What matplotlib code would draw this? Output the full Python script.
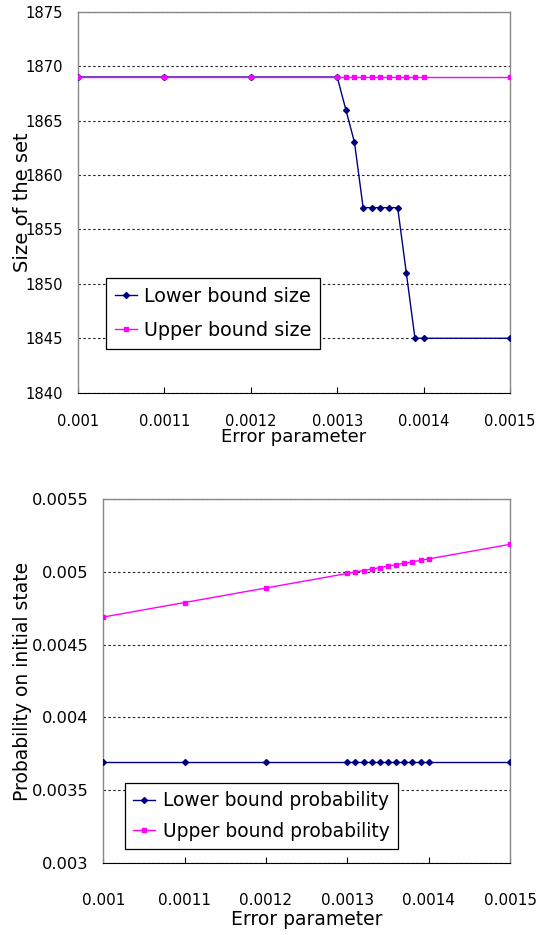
import matplotlib
matplotlib.use("Agg")
import matplotlib.pyplot as plt

plt.rcParams['font.family'] = ['DejaVu Sans']

# Error parameter values shared by both panels
error_param = [0.001, 0.0011, 0.0012, 0.0013, 0.00131, 0.00132, 0.00133, 0.00134,
               0.00135, 0.00136, 0.00137, 0.00138, 0.00139, 0.0014, 0.0015]

# Panel 1: size of the set
lower_size = [1869, 1869, 1869, 1869, 1866, 1863, 1857, 1857,
              1857, 1857, 1857, 1851, 1845, 1845, 1845]
upper_size = [1869, 1869, 1869, 1869, 1869, 1869, 1869, 1869,
              1869, 1869, 1869, 1869, 1869, 1869, 1869]

# Panel 2: probability on initial state
lower_prob = [0.00369, 0.00369, 0.00369, 0.00369, 0.00369, 0.00369, 0.00369, 0.00369,
              0.00369, 0.00369, 0.00369, 0.00369, 0.00369, 0.00369, 0.00369]
upper_prob = [0.00469, 0.00479, 0.00489, 0.00499, 0.00500, 0.00501, 0.00502, 0.00503,
              0.00504, 0.00505, 0.00506, 0.00507, 0.00508, 0.00509, 0.00519]

x_ticks = [0.001, 0.0011, 0.0012, 0.0013, 0.0014, 0.0015]
x_ticklabels = ["0.001", "0.0011", "0.0012", "0.0013", "0.0014", "0.0015"]
size_ticks = [1840, 1845, 1850, 1855, 1860, 1865, 1870, 1875]
prob_ticks = [0.003, 0.0035, 0.004, 0.0045, 0.005, 0.0055]
prob_ticklabels = ["0.003", "0.0035", "0.004", "0.0045", "0.005", "0.0055"]

NAVY = "#000080"
MAGENTA = "#FF00FF"
W, H = 540, 935

fig = plt.figure(figsize=(W / 100, H / 100), dpi=100)


def style_axes(ax, xpad, xsize, ysize):
    ax.set_xlim(0.001, 0.0015)
    ax.set_xticks(x_ticks)
    ax.set_xticklabels(x_ticklabels)
    ax.tick_params(axis='x', direction='in', length=4, width=0.8, pad=xpad,
                   labelsize=xsize, color='#000000')
    ax.tick_params(axis='y', length=0, pad=10.8, labelsize=ysize)
    for side in ('left', 'top', 'right'):
        ax.spines[side].set_color('#888888')
        ax.spines[side].set_linewidth(1.0)
    ax.spines['bottom'].set_color('#000000')
    ax.spines['bottom'].set_linewidth(0.8)
    ax.yaxis.grid(True, color='#222222', linestyle=(0, (2.2, 2.2)), linewidth=0.8)
    ax.set_axisbelow(True)


def legend_box(ax, anchor, size, spacing, bpad, tpad):
    leg = ax.legend(loc='upper left', bbox_to_anchor=anchor,
                    bbox_transform=fig.transFigure, fontsize=size, frameon=True,
                    fancybox=False, edgecolor='#000000', framealpha=1,
                    borderaxespad=0, handlelength=1.15, handletextpad=tpad,
                    borderpad=bpad, labelspacing=spacing)
    leg.get_frame().set_linewidth(0.9)
    return leg


# ---- top panel ----
ax1 = fig.add_axes([78 / W, 1 - 392.7 / H, 432 / W, 381 / H])
ax1.plot(error_param, lower_size, color=NAVY, marker='D', markersize=3.0,
         linewidth=1.0, label='Lower bound size', zorder=3)
ax1.plot(error_param, upper_size, color=MAGENTA, marker='s', markersize=3.4,
         linewidth=1.0, label='Upper bound size', zorder=4)
ax1.set_ylim(1840, 1875)
ax1.set_yticks(size_ticks)
style_axes(ax1, 15.5, 10.5, 10.6)
ax1.set_ylabel('Size of the set', fontsize=14, va='baseline')
ax1.yaxis.set_label_coords(-0.1157, 0.5)
ax1.set_xlabel('Error parameter', fontsize=13, va='baseline')
ax1.xaxis.set_label_coords(0.5, -0.1286)
legend_box(ax1, (106 / W, 1 - 278 / H), 13.8, 0.8, 0.46, 0.38)

# ---- bottom panel ----
ax2 = fig.add_axes([103.3 / W, 1 - 862.7 / H, 406.7 / W, 363.4 / H])
ax2.plot(error_param, lower_prob, color=NAVY, marker='D', markersize=3.0,
         linewidth=1.0, label='Lower bound probability', zorder=3)
ax2.plot(error_param, upper_prob, color=MAGENTA, marker='s', markersize=3.4,
         linewidth=1.0, label='Upper bound probability', zorder=4)
ax2.set_ylim(0.003, 0.0055)
ax2.set_yticks(prob_ticks)
ax2.set_yticklabels(prob_ticklabels)
style_axes(ax2, 21.5, 11.0, 11.7)
ax2.set_ylabel('Probability on initial state', fontsize=13.5, va='baseline')
ax2.yaxis.set_label_coords(-0.185, 0.5)
ax2.set_xlabel('Error parameter', fontsize=13.5, va='baseline')
ax2.xaxis.set_label_coords(0.5, -0.1714)
legend_box(ax2, (125 / W, 1 - 783 / H), 13.4, 0.62, 0.45, 0.45)

fig.savefig('out.png', dpi=100, facecolor='white')
